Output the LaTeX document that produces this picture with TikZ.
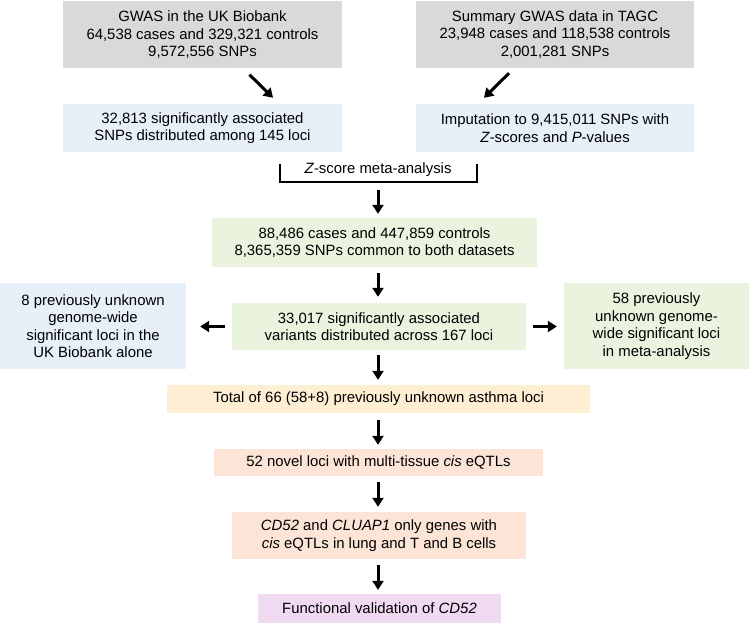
\documentclass[tikz,border=0pt]{standalone}
\usepackage{fontspec}
\setmainfont{Liberation Sans}
\usetikzlibrary{arrows.meta}
\definecolor{cgray}{RGB}{217,217,217}
\definecolor{cblue}{RGB}{231,239,249}
\definecolor{cgreen}{RGB}{234,243,222}
\definecolor{cyellow}{RGB}{253,238,212}
\definecolor{cpeach}{RGB}{252,229,214}
\definecolor{cpurple}{RGB}{240,218,242}
\begin{document}
\begin{tikzpicture}[x=1pt,y=-1pt,
  font=\fontsize{14.9}{17.5}\selectfont,
  box/.style={inner sep=0pt, align=center, anchor=center, text=black},
  arr/.style={line width=3pt, -{Triangle[length=9pt,width=11pt]}},
  brk/.style={line width=2.8pt}]
\useasboundingbox (0,0) rectangle (749,623);

\node[box, fill=cgray, minimum width=279pt, minimum height=67pt] (g1) at (202.5,35) {GWAS in the UK Biobank\\64,538 cases and 329,321 controls\\9,572,556 SNPs};
\node[box, fill=cgray, minimum width=278pt, minimum height=67pt] (g2) at (555,34.5) {Summary GWAS data in TAGC\\23,948 cases and 118,538 controls\\2,001,281 SNPs};

\node[box, fill=cblue, minimum width=279pt, minimum height=48pt] (b1) at (202.5,128) {32,813 significantly associated\\SNPs distributed among 145 loci};
\node[box, fill=cblue, minimum width=278pt, minimum height=48pt] (b2) at (555,128) {Imputation to 9,415,011 SNPs with\\\textit{Z}-scores and \textit{P}-values};

\node[anchor=base, inner sep=0pt] (meta) at (378,173) {\textit{Z}-score meta-analysis};
\coordinate (bl) at (280,164);
\coordinate (br) at (477,164);
\coordinate (bm) at (378,182);
\draw[brk] (bl) |- (bm) -| (br);

\node[box, fill=cgreen, minimum width=325pt, minimum height=49pt] (gr1) at (374.5,242.5) {88,486 cases and 447,859 controls\\8,365,359 SNPs common to both datasets};
\node[box, fill=cgreen, minimum width=294pt, minimum height=47pt] (gr2) at (379,326.5) {33,017 significantly associated\\variants distributed across 167 loci};

\node[box, fill=cblue, minimum width=186pt, minimum height=86pt] (lb) at (93,326) {8 previously unknown\\genome-wide\\significant loci in the\\UK Biobank alone};
\node[box, fill=cgreen, minimum width=185pt, minimum height=86pt] (rg) at (656.5,326) {58 previously\\unknown genome-\\wide significant loci\\in meta-analysis};

\node[box, fill=cyellow, minimum width=423pt, minimum height=28pt] (y1) at (378.5,399) {Total of 66 (58+8) previously unknown asthma loci};
\node[box, fill=cpeach, minimum width=329pt, minimum height=27pt] (p1) at (378.5,462.5) {52 novel loci with multi-tissue \textit{cis} eQTLs};
\node[box, fill=cpeach, minimum width=294pt, minimum height=47pt] (p2) at (379,535.5) {\textit{CD52} and \textit{CLUAP1} only genes with\\\textit{cis} eQTLs in lung and T and B cells};
\node[box, fill=cpurple, minimum width=243pt, minimum height=29pt] (pu) at (379.5,608.5) {Functional validation of \textit{CD52}};

% diagonal arrows
\draw[arr] ([xshift=47pt,yshift=-6pt]g1.south) -- ([xshift=70.5pt,yshift=6pt]b1.north);
\draw[arr] ([xshift=-46pt,yshift=-5pt]g2.south) -- ([xshift=-71pt,yshift=6pt]b2.north);

% vertical arrows
\draw[arr, shorten <=8pt, shorten >=4pt] (bm) -- (bm |- gr1.north);
\draw[arr, shorten <=6pt, shorten >=6pt] (gr1.south -| bm) -- (gr2.north -| bm);
\draw[arr, shorten <=5pt, shorten >=5pt] (gr2.south -| bm) -- (y1.north -| bm);
\draw[arr, shorten <=7pt, shorten >=4pt] (y1.south -| bm) -- (p1.north -| bm);
\draw[arr, shorten <=6pt, shorten >=5pt] (p1.south -| bm) -- (p2.north -| bm);
\draw[arr, shorten <=6pt, shorten >=4pt] (p2.south -| bm) -- (pu.north -| bm);

% horizontal arrows
\draw[arr, shorten <=7pt, shorten >=14pt] (gr2.west) -- (lb.east |- gr2.west);
\draw[arr, shorten <=7pt, shorten >=7pt] (gr2.east) -- (rg.west |- gr2.east);
\end{tikzpicture}
\end{document}
